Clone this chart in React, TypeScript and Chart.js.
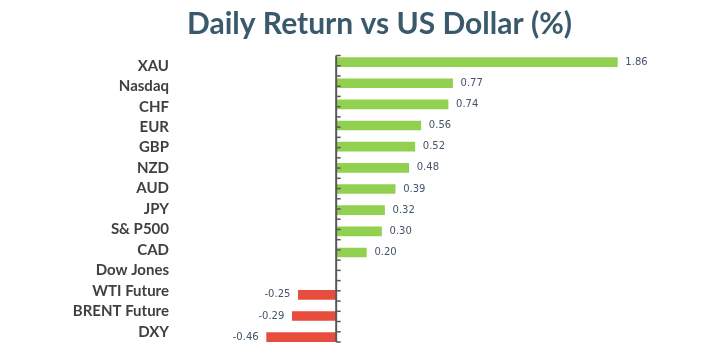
import React, { useEffect, useRef } from "react";
import { Chart, registerables } from "chart.js";

Chart.register(...registerables);

const categories = [
  "XAU", "Nasdaq", "CHF", "EUR", "GBP", "NZD", "AUD", "JPY",
  "S& P500", "CAD", "Dow Jones", "WTI Future", "BRENT Future", "DXY",
];
const returns: (number | null)[] = [
  1.86, 0.77, 0.74, 0.56, 0.52, 0.48, 0.39, 0.32, 0.3, 0.2, null, -0.25, -0.29, -0.46,
];
const positiveColor = "#92d050";
const negativeColor = "#e74c3c";
const barIndexMin = -0.31;
const barIndexMax = 13.23;

const axisPlugin = {
  id: "zeroAxis",
  afterDatasetsDraw(chart: any) {
    const { ctx, scales } = chart;
    const x = scales.x;
    const y = scales.yCat;
    const x0 = x.getPixelForValue(0);
    const band = y.getPixelForValue(1) - y.getPixelForValue(0);
    ctx.save();
    ctx.strokeStyle = "#595959";
    ctx.lineWidth = 2;
    ctx.beginPath();
    ctx.moveTo(x0, y.top);
    ctx.lineTo(x0, y.bottom);
    ctx.stroke();
    ctx.lineWidth = 1.5;
    for (let i = 0; i <= categories.length; i++) {
      const marks = [y.getPixelForValue(i) - band / 2];
      if (i < categories.length) marks.push(y.getPixelForValue(i));
      marks.forEach((yy) => {
        ctx.beginPath();
        ctx.moveTo(x0, yy);
        ctx.lineTo(x0 + 4.5, yy);
        ctx.stroke();
      });
    }
    ctx.restore();
  },
};

const labelPlugin = {
  id: "valueLabels",
  afterDatasetsDraw(chart: any) {
    const { ctx } = chart;
    const meta = chart.getDatasetMeta(0);
    ctx.save();
    ctx.font = "10px 'DejaVu Sans'";
    ctx.fillStyle = "#44546a";
    ctx.textBaseline = "middle";
    meta.data.forEach((bar: any, i: number) => {
      const v = returns[i];
      if (v === null || v === undefined) return;
      const text = v.toFixed(2);
      if (v >= 0) {
        ctx.textAlign = "left";
        ctx.fillText(text, bar.x + 8, bar.y);
      } else {
        ctx.textAlign = "right";
        ctx.fillText(text, bar.x - 8, bar.y);
      }
    });
    ctx.restore();
  },
};

export default function App() {
  const ref = useRef<HTMLCanvasElement>(null);
  useEffect(() => {
    document.body.style.margin = "0";
    const chart = new Chart(ref.current!, {
      type: "bar",
      data: {
        labels: categories,
        datasets: [
          {
            data: returns.map((v, i) => ({ x: v, y: i })) as any,
            backgroundColor: returns.map((v) => ((v ?? 0) >= 0 ? positiveColor : negativeColor)),
            barThickness: 9,
            xAxisID: "x",
            yAxisID: "y",
          },
        ],
      },
      options: {
        indexAxis: "y",
        animation: false,
        responsive: false,
        layout: { padding: { left: 60, right: 26, top: 0, bottom: 14 } },
        plugins: {
          legend: { display: false },
          tooltip: { enabled: false },
          title: {
            display: true,
            text: "Daily Return vs US Dollar (%)",
            color: "#3a5a6c",
            font: { family: "Lato", size: 30, weight: "bold" },
            padding: { top: 6, bottom: 13.5 },
          },
        },
        scales: {
          x: {
            display: false,
            min: -1,
            max: 2.4,
          },
          y: {
            type: "linear",
            display: false,
            reverse: true,
            offset: false,
            bounds: "data",
            grace: 0,
            min: barIndexMin,
            max: barIndexMax,
            grid: { offset: false },
            afterDataLimits: (s: any) => {
              s.min = barIndexMin;
              s.max = barIndexMax;
            },
            afterBuildTicks: (s: any) => {
              s.min = barIndexMin;
              s.max = barIndexMax;
            },
          },
          yCat: {
            type: "category",
            position: "left",
            offset: true,
            grid: { display: false, drawTicks: false },
            border: { display: false },
            ticks: {
              autoSkip: false,
              color: "#404040",
              padding: 16,
              font: { family: "Lato", size: 15, weight: "bold" },
            },
            afterFit: (scale: any) => {
              scale.width = 125;
              scale.paddingTop = 0;
              scale.paddingBottom = 0;
            },
          },
        },
      },
      plugins: [axisPlugin, labelPlugin],
    });
    return () => chart.destroy();
  }, []);
  return <canvas ref={ref} width={725} height={356} style={{ display: "block" }} />;
}
